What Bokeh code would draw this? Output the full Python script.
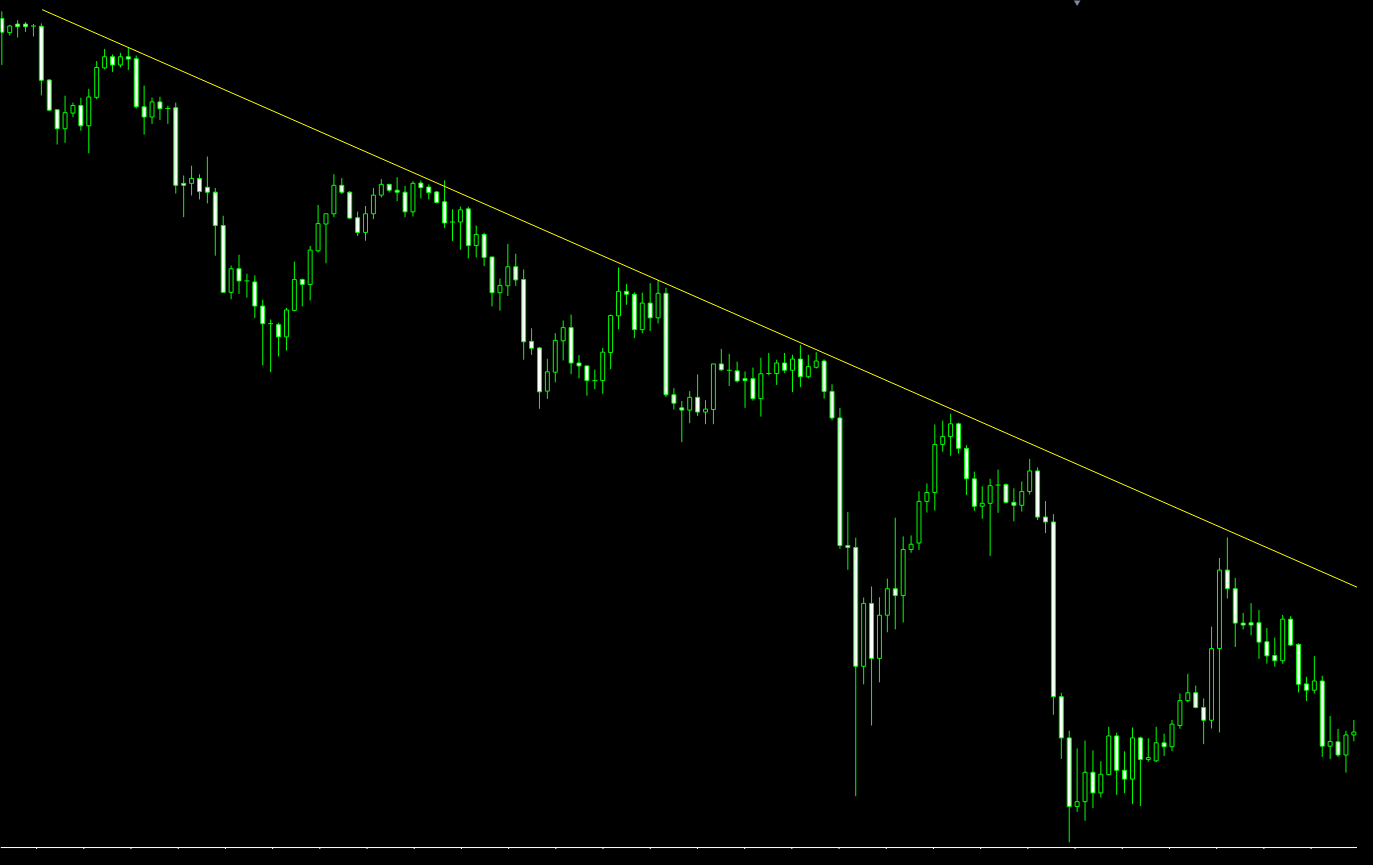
from bokeh.plotting import figure
from bokeh.models import Range1d, Span, ColumnDataSource
from bokeh.embed import file_html
from bokeh.resources import INLINE

# ---- OHLC data (arbitrary price units), 172 bars ----
opens = [
    846.7, 832.3, 841.0, 841.0, 839.0, 838.7, 784.0, 753.7, 734.3, 750.3,
    758.0, 737.3, 766.3, 796.3, 807.7, 799.3, 807.7, 805.7, 756.7, 746.3,
    761.7, 755.0, 755.7, 678.7, 678.7, 683.7, 674.7, 669.7, 635.7, 567.7,
    591.7, 579.3, 578.3, 553.7, 535.7, 534.7, 522.3, 549.3, 580.7, 575.7,
    610.0, 637.3, 647.7, 676.7, 669.7, 643.7, 628.7, 647.7, 666.7, 677.7,
    671.7, 669.7, 649.7, 679.0, 675.0, 670.0, 660.0, 639.3, 639.3, 652.7,
    615.3, 626.7, 603.7, 567.3, 574.3, 593.7, 580.7, 517.7, 511.0, 467.0,
    486.3, 518.3, 531.7, 495.7, 492.7, 477.7, 477.7, 506.3, 543.7, 568.7,
    565.7, 529.7, 556.7, 541.7, 566.7, 463.3, 450.0, 447.7, 460.7, 445.7,
    448.3, 494.7, 488.3, 487.7, 479.7, 479.7, 459.3, 485.0, 485.0, 495.7,
    488.3, 499.7, 481.7, 491.3, 497.7, 466.7, 439.7, 309.7, 307.7, 186.7,
    250.7, 194.7, 238.7, 265.7, 258.7, 305.7, 312.3, 354.7, 363.7, 412.7,
    420.7, 433.7, 408.7, 377.7, 349.7, 352.7, 371.3, 371.7, 353.7, 350.7,
    364.7, 385.7, 338.7, 333.7, 155.7, 113.7, 43.7, 48.7, 78.7, 57.7,
    76.3, 115.7, 80.7, 71.7, 113.7, 91.7, 90.3, 108.7, 104.7, 126.3,
    151.7, 159.7, 144.7, 131.7, 204.7, 284.7, 265.7, 230.7, 231.0, 231.0,
    211.7, 197.7, 192.3, 234.7, 209.0, 168.7, 162.3, 171.7, 105.3, 109.7,
    96.3, 116.7,
]
highs = [
    854.0, 840.3, 845.0, 843.0, 841.0, 841.7, 785.0, 753.7, 768.0, 761.0,
    766.0, 775.0, 803.3, 815.7, 810.0, 811.7, 816.7, 809.0, 778.3, 766.0,
    767.0, 757.7, 761.0, 686.7, 696.7, 688.0, 706.0, 674.0, 645.7, 595.0,
    606.0, 586.7, 585.0, 560.0, 540.0, 536.7, 551.7, 599.0, 581.7, 615.0,
    656.7, 647.7, 688.0, 684.0, 670.7, 650.0, 655.7, 674.0, 683.0, 677.7,
    685.0, 676.0, 681.0, 681.7, 677.7, 671.0, 681.7, 652.3, 655.0, 655.0,
    635.7, 628.3, 603.7, 581.7, 617.0, 607.0, 591.0, 531.0, 512.0, 500.0,
    526.0, 539.0, 545.0, 503.7, 492.7, 489.0, 511.0, 545.0, 593.0, 576.0,
    567.7, 567.3, 577.0, 580.0, 572.3, 470.0, 457.0, 467.0, 484.0, 457.7,
    494.7, 510.0, 505.0, 497.0, 487.0, 491.0, 501.0, 506.0, 499.0, 506.0,
    504.0, 514.0, 504.0, 506.7, 499.3, 474.0, 450.0, 344.0, 317.7, 256.7,
    268.0, 257.0, 276.0, 338.0, 319.0, 320.0, 365.0, 373.0, 433.0, 437.0,
    444.0, 435.0, 412.0, 385.0, 370.0, 377.7, 387.0, 373.0, 368.0, 375.0,
    398.0, 389.3, 355.0, 341.7, 159.7, 121.0, 103.0, 111.0, 101.0, 90.0,
    125.0, 119.0, 100.0, 124.3, 115.0, 113.3, 125.0, 118.0, 132.0, 159.0,
    179.0, 167.0, 154.0, 227.0, 297.0, 318.0, 276.7, 241.0, 251.0, 244.0,
    225.7, 216.0, 239.0, 237.7, 210.0, 176.0, 197.0, 177.0, 136.0, 123.0,
    121.0, 132.0,
]
lows = [
    799.3, 829.3, 827.3, 833.0, 828.3, 768.3, 752.3, 718.3, 720.0, 746.3,
    732.3, 709.3, 764.3, 795.0, 792.3, 796.7, 794.3, 755.0, 728.3, 739.3,
    743.3, 739.3, 668.3, 644.3, 666.3, 662.3, 658.3, 605.0, 567.7, 560.7,
    566.0, 562.3, 541.3, 493.3, 486.3, 502.3, 508.3, 548.3, 553.3, 559.3,
    608.3, 597.3, 644.3, 667.7, 642.3, 625.0, 620.3, 642.3, 664.3, 669.3,
    660.7, 644.3, 645.0, 663.3, 662.3, 658.3, 633.3, 620.0, 611.0, 602.3,
    603.3, 594.3, 553.3, 549.0, 564.0, 574.3, 499.0, 504.0, 449.0, 459.0,
    476.0, 498.3, 484.3, 480.0, 462.3, 469.0, 464.3, 489.3, 530.0, 555.0,
    521.0, 526.0, 528.3, 536.0, 461.0, 448.3, 415.0, 434.3, 441.7, 433.3,
    433.3, 487.7, 472.3, 475.7, 450.0, 457.3, 441.0, 483.3, 473.3, 485.7,
    466.0, 471.0, 480.0, 490.0, 459.3, 437.3, 306.3, 285.0, 54.3, 168.3,
    126.3, 170.3, 221.3, 224.3, 231.3, 302.3, 305.3, 343.3, 345.3, 405.3,
    401.3, 403.3, 361.3, 345.0, 337.0, 299.0, 343.0, 352.7, 334.3, 344.3,
    361.7, 335.7, 322.3, 137.3, 92.3, 7.3, 38.3, 29.3, 42.3, 53.0,
    75.7, 55.7, 57.3, 46.3, 44.3, 89.3, 89.0, 95.3, 100.3, 123.0,
    150.0, 143.7, 107.3, 123.3, 119.3, 255.7, 206.3, 224.3, 218.3, 194.3,
    189.3, 186.3, 189.3, 207.3, 160.0, 151.3, 159.0, 94.3, 92.0, 94.3,
    78.3, 110.3,
]
closes = [
    832.7, 839.0, 838.3, 838.3, 839.0, 783.7, 753.3, 734.3, 750.7, 758.0,
    737.3, 766.7, 796.7, 807.7, 799.3, 807.7, 805.3, 756.7, 746.3, 761.7,
    754.7, 755.0, 676.7, 676.7, 683.7, 670.3, 669.7, 635.7, 567.7, 591.7,
    579.3, 579.3, 553.7, 535.7, 535.7, 522.3, 549.7, 580.7, 575.7, 610.7,
    637.7, 647.7, 676.7, 669.7, 643.3, 628.7, 647.7, 666.7, 677.7, 671.7,
    669.7, 649.7, 678.7, 674.3, 669.3, 659.3, 638.3, 639.3, 651.7, 615.3,
    626.7, 603.3, 567.3, 574.7, 593.7, 580.3, 517.3, 510.7, 466.3, 486.7,
    518.7, 531.7, 495.7, 492.7, 477.7, 477.7, 506.7, 544.0, 568.7, 565.7,
    529.7, 556.7, 541.7, 566.7, 463.3, 454.7, 447.7, 460.7, 445.7, 448.7,
    494.7, 488.7, 488.3, 477.3, 477.7, 459.3, 484.7, 485.0, 495.7, 488.3,
    499.7, 481.7, 492.0, 497.7, 466.7, 439.7, 309.7, 307.7, 186.7, 250.7,
    194.7, 238.7, 265.7, 258.7, 305.7, 311.0, 354.7, 363.7, 412.7, 420.7,
    433.7, 408.7, 377.7, 349.7, 352.7, 370.7, 371.3, 353.7, 350.7, 364.7,
    385.7, 338.7, 333.7, 155.7, 113.7, 43.7, 48.7, 78.7, 57.7, 76.7,
    115.7, 80.7, 71.7, 113.7, 91.7, 93.7, 108.7, 104.7, 127.7, 151.7,
    159.7, 144.7, 131.7, 204.7, 284.7, 265.7, 230.7, 228.7, 228.7, 211.3,
    197.3, 192.3, 234.7, 208.3, 168.3, 162.3, 171.7, 105.3, 110.0, 96.3,
    116.7, 119.7,
]

# trend line anchors (bar index, price)
trend_x = [5.1, 171.5]
trend_y = [855.7, 266.9]

# chart-shift marker position (bar index)
shift_bar = [136]

# time-scale separator positions (bar index)
time_ticks = [4.4 + 5.97 * k for k in range(29)]

n = len(opens)
idx = list(range(n))

bear = dict(x=[], top=[], bottom=[])
bull = dict(x=[], top=[], bottom=[])
doji = dict(x=[], y=[])
for i, o, c in zip(idx, opens, closes):
    if c < o:
        bear["x"].append(i); bear["top"].append(o); bear["bottom"].append(c)
    elif c > o:
        bull["x"].append(i); bull["top"].append(c); bull["bottom"].append(o)
    else:
        doji["x"].append(i); doji["y"].append(o)

W, H = 1357, 849
p = figure(width=W, height=H, output_backend="svg", toolbar_location=None,
           x_range=Range1d(-0.166, 171.46), y_range=Range1d(0, 865),
           x_axis_type=None, y_axis_type=None, min_border=0,
           background_fill_color="#000000", border_fill_color="#000000")
p.outline_line_color = None
p.grid.visible = False

LIME = "#00FF00"
p.segment(x0=idx, y0=lows, x1=idx, y1=highs, line_color=LIME, line_width=1)
p.vbar(x="x", top="top", bottom="bottom", width=0.5, source=ColumnDataSource(bear),
       fill_color="#FFFFFF", line_color=LIME, line_width=1)
p.vbar(x="x", top="top", bottom="bottom", width=0.5, source=ColumnDataSource(bull),
       fill_color="#000000", line_color=LIME, line_width=1)
p.scatter(x="x", y="y", source=ColumnDataSource(doji), marker="dash", size=5,
          line_color=LIME, line_width=1)

p.line(trend_x, trend_y, line_color="#FFFF00", line_width=1)

p.scatter(shift_bar, [864], marker="inverted_triangle", size=8,
          fill_color="#7B8CA0", line_color=None)

# bottom time-scale line with small separators
p.add_layout(Span(location=2, dimension="width", line_color="#FFFFFF", line_width=1))
p.segment(x0=time_ticks, y0=[0] * len(time_ticks), x1=time_ticks, y1=[2] * len(time_ticks),
          line_color="#FFFFFF", line_width=1)

html = file_html(p, INLINE)
html = html.replace("<head>", "<head><style>html,body{background:#000000;}</style>", 1)
open("out.html", "w").write(html)
